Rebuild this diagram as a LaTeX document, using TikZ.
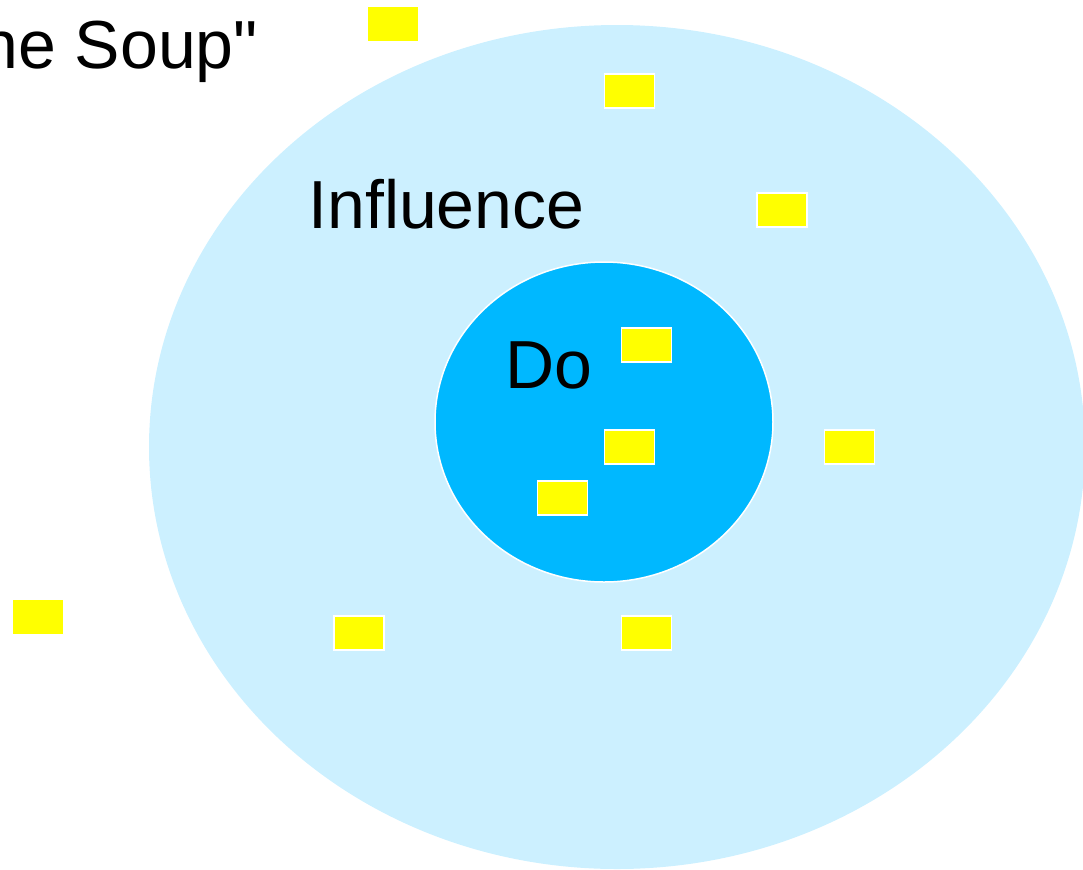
\documentclass[tikz,border=0pt]{standalone}
\usepackage{fontspec}
\setmainfont{Liberation Sans}[Ligatures=TeXOff]
\definecolor{outerblue}{RGB}{204,240,255}
\definecolor{innerblue}{RGB}{0,184,255}
\definecolor{chipyellow}{RGB}{255,255,0}
\tikzset{
  chip/.style={rectangle, fill=chipyellow, draw=white, line width=0.75pt,
    minimum width=25pt, minimum height=17pt, inner sep=0pt},
  loose/.style={chip, draw=none},
  word/.style={anchor=base west, inner sep=0pt, font=\fontsize{34}{38}\selectfont}
}
\begin{document}
\begin{tikzpicture}[x=0.5pt,y=-0.5pt]
  \useasboundingbox (0,0) rectangle (1083,869);
  \clip (0,0) rectangle (1083,869);

  % circles of concern
  \fill[outerblue] (617,447) ellipse [x radius=468, y radius=422];
  \draw[white, line width=0.75pt, fill=innerblue] (604,422) ellipse [x radius=169, y radius=160];

  % items
  \node[loose] (t1) at (393,24) {};
  \node[chip] (t2) at (629.5,91) {};
  \node[chip] (t3) at (782,210) {};
  \node[chip] (t4) at (646.5,345) {};
  \node[chip] (t5) at (629.5,447) {};
  \node[chip] (t6) at (562.5,498) {};
  \node[chip] (t7) at (849.5,447) {};
  \node[chip] (t8) at (359,633) {};
  \node[chip] (t9) at (646.5,633) {};
  \node[loose] (t10) at (37.5,616.5) {};

  % labels
  \node[word] (soup) at (-20,68) {he Soup"};
  \node[word] (infl) at (308,228) {Influence};
  \node[word] (do) at (505,388) {Do};
\end{tikzpicture}
\end{document}
